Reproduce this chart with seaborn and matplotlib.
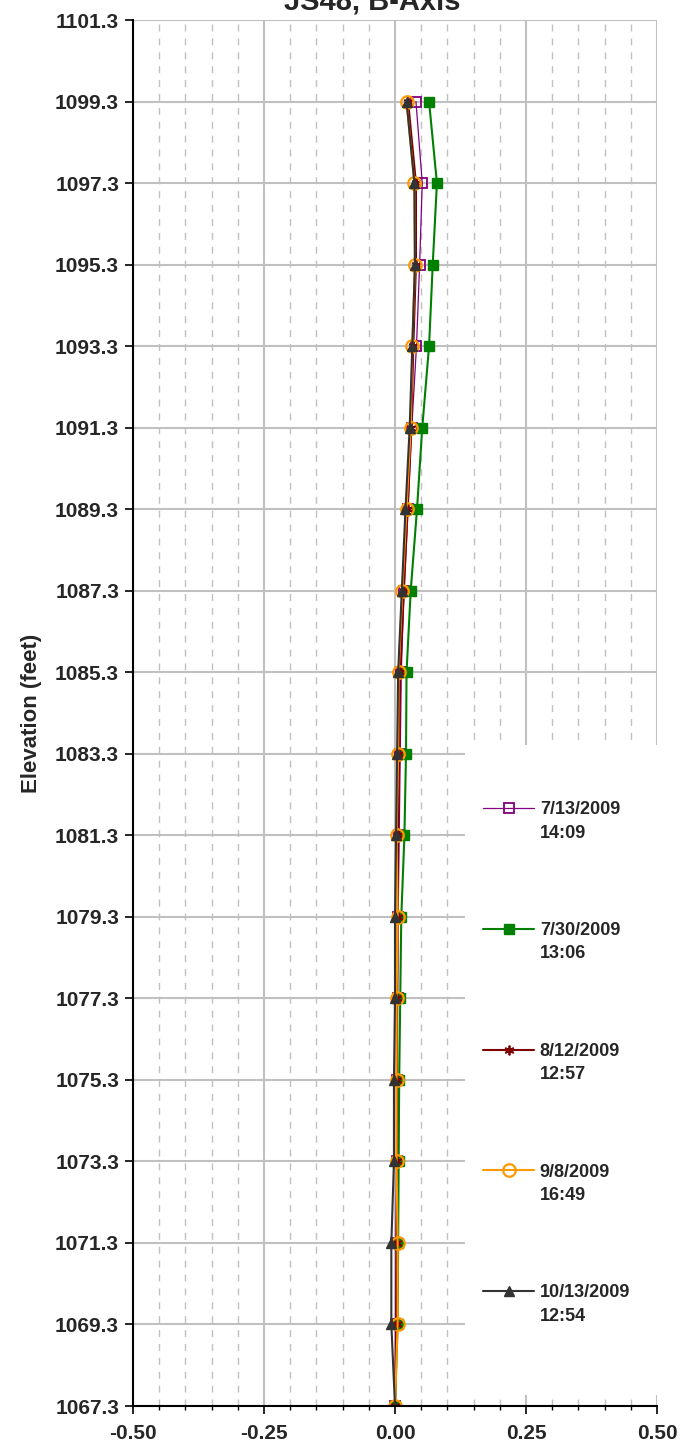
import numpy as np
import pandas as pd
import seaborn as sns
import matplotlib
matplotlib.use("Agg")
import matplotlib.pyplot as plt
from matplotlib.lines import Line2D
from matplotlib.patches import Rectangle
from matplotlib.legend_handler import HandlerLine2D
from matplotlib.ticker import MultipleLocator, FormatStrFormatter

# elevations of the inclinometer readings (top to bottom)
elevation = [1099.3, 1097.3, 1095.3, 1093.3, 1091.3, 1089.3, 1087.3, 1085.3, 1083.3,
             1081.3, 1079.3, 1077.3, 1075.3, 1073.3, 1071.3, 1069.3, 1067.3]

# cumulative displacement (inches) per reading date
disp_0713 = [0.040, 0.052, 0.047, 0.041, 0.032, 0.025, 0.017, 0.012, 0.010,
             0.008, 0.006, 0.005, 0.004, 0.003, 0.002, 0.001, 0.000]
disp_0730 = [0.065, 0.080, 0.072, 0.065, 0.052, 0.042, 0.030, 0.022, 0.021,
             0.018, 0.012, 0.010, 0.008, 0.007, 0.006, 0.005, 0.000]
disp_0812 = [0.025, 0.040, 0.040, 0.035, 0.031, 0.024, 0.017, 0.010, 0.008,
             0.006, 0.005, 0.004, 0.004, 0.004, 0.003, 0.003, 0.000]
disp_0908 = [0.022, 0.037, 0.038, 0.033, 0.030, 0.022, 0.014, 0.007, 0.006,
             0.003, 0.005, 0.003, 0.003, 0.003, 0.005, 0.005, 0.000]
disp_1013 = [0.022, 0.037, 0.038, 0.033, 0.028, 0.020, 0.013, 0.006, 0.004,
             0.002, 0.000, 0.000, -0.002, -0.002, -0.007, -0.007, 0.000]

labels = ["7/13/2009\n14:09", "7/30/2009\n13:06", "8/12/2009\n12:57",
          "9/8/2009\n16:49", "10/13/2009\n12:54"]

LEG_SIZE = 13
LEG_LINESPACING = 1.5


class FirstLineHandler(HandlerLine2D):
    # put the legend sample next to the first line of a two-line label
    def create_artists(self, legend, orig_handle, xdescent, ydescent, width,
                       height, fontsize, trans):
        arts = super().create_artists(legend, orig_handle, xdescent, ydescent,
                                      width, height, fontsize, trans)
        for a in arts:
            a.set_ydata(np.asarray(a.get_ydata()) + 0.5 * LEG_LINESPACING * fontsize)
        return arts


sns.set_style("white")
plt.rcParams["font.family"] = ["Liberation Sans", "DejaVu Sans"]

fig = plt.figure(figsize=(6.94, 14.49), dpi=100)
ax = fig.add_axes([133 / 694, 1 - 1406 / 1449, 524 / 694, 1386 / 1449])

styles = [
    dict(color="#800080", marker="s", markersize=7, markerfacecolor="none",
         markeredgecolor="#800080", markeredgewidth=1.3, linewidth=0.9),
    dict(color="#008000", marker="s", markersize=6.5, markerfacecolor="#008000",
         markeredgecolor="#008000", markeredgewidth=1, linewidth=1.5),
    dict(color="#800000", marker=(6, 2, 0), markersize=7, markeredgecolor="#800000",
         markeredgewidth=1.3, linewidth=1.5),
    dict(color="#FF9900", marker="o", markersize=9, markerfacecolor="none",
         markeredgecolor="#FF9900", markeredgewidth=1.6, linewidth=1.5),
    dict(color="#333333", marker="^", markersize=7.5, markerfacecolor="#333333",
         markeredgecolor="#333333", markeredgewidth=1, linewidth=1.5),
]

series = [disp_0713, disp_0730, disp_0812, disp_0908, disp_1013]
for vals, lab, st in zip(series, labels, styles):
    df = pd.DataFrame({"disp": vals, "elev": elevation})
    sns.lineplot(data=df, x="disp", y="elev", sort=False, estimator=None,
                 label=lab, ax=ax, **st)

ax.set_xlim(-0.5, 0.5)
ax.set_ylim(1067.3, 1101.3)
ax.set_yticks(np.round(np.arange(1067.3, 1101.4, 2.0), 1))
ax.xaxis.set_major_locator(MultipleLocator(0.25))
ax.xaxis.set_minor_locator(MultipleLocator(0.05))
ax.xaxis.set_major_formatter(FormatStrFormatter("%.2f"))
ax.yaxis.set_major_formatter(FormatStrFormatter("%.1f"))

ax.set_axisbelow(True)
ax.grid(which="major", axis="both", color="#c0c0c0", linewidth=1.5)
ax.grid(which="minor", axis="x", color="#c0c0c0", linewidth=1.0, linestyle=(0, (5, 5)))

for side in ["top", "right"]:
    ax.spines[side].set_visible(False)
for side in ["left", "bottom"]:
    ax.spines[side].set_color("black")
    ax.spines[side].set_linewidth(1.5)

ax.tick_params(axis="both", which="major", direction="out", length=6, width=1.2,
               color="black", labelsize=15, pad=4)
ax.tick_params(axis="x", which="minor", direction="out", length=3, width=1, color="black")
ax.tick_params(axis="x", which="major", pad=7)
ax.tick_params(axis="x", bottom=True, which="both")
ax.tick_params(axis="y", left=True)
for t in ax.get_xticklabels() + ax.get_yticklabels():
    t.set_fontweight("bold")

ax.set_xlabel("")
ax.set_ylabel("Elevation (feet)", fontsize=16, fontweight="bold", labelpad=9)

# white area behind the legend (hides the grid there, as in the original)
box = Rectangle((465 / 694, 1 - 1395 / 1449), 229 / 694, 650 / 1449,
                transform=fig.transFigure, facecolor="white", edgecolor="none",
                clip_on=False, zorder=4)
ax.add_patch(box)

leg = ax.legend(loc="upper left", bbox_to_anchor=(483 / 694, 1 - 801 / 1449),
                bbox_transform=fig.transFigure, frameon=False,
                fontsize=LEG_SIZE, labelspacing=4.45, handlelength=2.85,
                handletextpad=0.3, borderpad=0, borderaxespad=0,
                handler_map={Line2D: FirstLineHandler()})
for t in leg.get_texts():
    t.set_fontweight("bold")
    t.set_linespacing(LEG_LINESPACING)
leg.set_zorder(5)

fig.text(372 / 694, 1 - 10 / 1449, "JS48, B-Axis", ha="center", va="baseline",
         fontsize=21, fontweight="bold")

fig.savefig("out.png", dpi=100)
